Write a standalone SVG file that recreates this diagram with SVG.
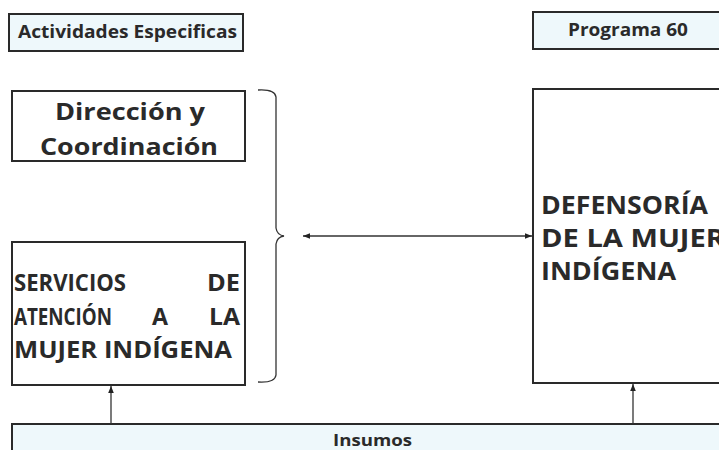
<svg xmlns="http://www.w3.org/2000/svg" width="719" height="450" viewBox="0 0 719 450">
<defs>
<marker id="ah" viewBox="0 0 10 10" refX="10" refY="5" markerWidth="7" markerHeight="7" markerUnits="userSpaceOnUse" orient="auto-start-reverse">
<path d="M0,1 L10,5 L0,9 z" fill="#222"/>
</marker>
<style>
.lbl{fill:#eef8fb;stroke:#2a2a2a;stroke-width:2}
.box{fill:#fff;stroke:#2a2a2a;stroke-width:2}
text{font-family:"Open Sans","Noto Sans",sans-serif;font-weight:bold;fill:#2a2a2a}
.conn{stroke:#333;stroke-width:1.3;fill:none}
</style>
</defs>
<rect width="719" height="450" fill="#fff"/>
<g id="actividades">
<rect class="lbl" x="9" y="14" width="234" height="37"/>
<text x="18" y="38" font-size="17" textLength="219" lengthAdjust="spacingAndGlyphs">Actividades Especificas</text>
</g>
<g id="programa">
<rect class="lbl" x="533" y="12" width="192" height="37"/>
<text x="568" y="36" font-size="17" textLength="120" lengthAdjust="spacingAndGlyphs">Programa 60</text>
</g>
<g id="direccion">
<rect class="box" x="12" y="91" width="233" height="70"/>
<text x="55" y="120" font-size="24" textLength="150" lengthAdjust="spacingAndGlyphs">Dirección y</text>
<text x="40" y="155" font-size="24" textLength="178" lengthAdjust="spacingAndGlyphs">Coordinación</text>
</g>
<g id="servicios">
<rect class="box" x="12" y="242" width="233" height="143"/>
<text font-size="22.5">
<tspan x="14" y="291" textLength="112" lengthAdjust="spacingAndGlyphs">SERVICIOS</tspan>
<tspan x="207" y="291" textLength="33" lengthAdjust="spacingAndGlyphs">DE</tspan>
<tspan x="14" y="325" textLength="98" lengthAdjust="spacingAndGlyphs">ATENCIÓN</tspan>
<tspan x="152" y="325" textLength="16" lengthAdjust="spacingAndGlyphs">A</tspan>
<tspan x="209" y="325" textLength="31" lengthAdjust="spacingAndGlyphs">LA</tspan>
<tspan x="14" y="358" textLength="218" lengthAdjust="spacingAndGlyphs">MUJER INDÍGENA</tspan>
</text>
</g>
<g id="defensoria">
<rect class="box" x="533" y="89" width="192" height="294"/>
<text font-size="25">
<tspan x="541" y="214" textLength="167" lengthAdjust="spacingAndGlyphs">DEFENSORÍA</tspan>
<tspan x="541" y="247" textLength="184" lengthAdjust="spacingAndGlyphs">DE LA MUJER</tspan>
<tspan x="541" y="280" textLength="135" lengthAdjust="spacingAndGlyphs">INDÍGENA</tspan>
</text>
</g>
<g id="insumos">
<rect class="lbl" x="12" y="424" width="713" height="34"/>
<text x="333" y="446" font-size="16.5" textLength="79" lengthAdjust="spacingAndGlyphs">Insumos</text>
</g>
<g id="connectors">
<path class="conn" d="M258,90 Q275,89 276,97 L276,228 Q277,235 284,236 Q277,237 276,244 L276,375 Q275,383 258,382"/>
<line class="conn" x1="303" y1="236" x2="532" y2="236" marker-start="url(#ah)" marker-end="url(#ah)"/>
<line class="conn" x1="111" y1="424" x2="111" y2="386" marker-end="url(#ah)"/>
<line class="conn" x1="633" y1="424" x2="633" y2="384" marker-end="url(#ah)"/>
</g>
</svg>
